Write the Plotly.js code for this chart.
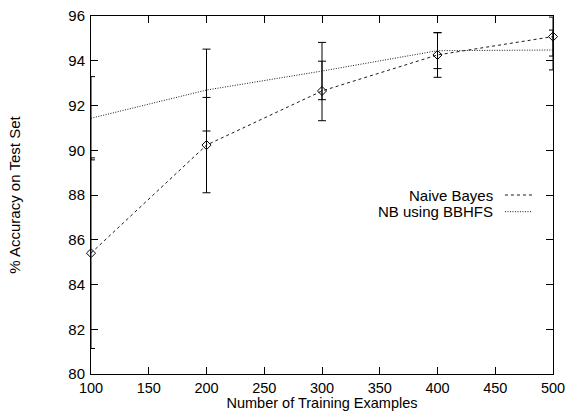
<!DOCTYPE html>
<html>
<head>
<meta charset="utf-8">
<script src="https://cdn.plot.ly/plotly-3.0.1.min.js"></script>
<style>html,body{margin:0;padding:0;background:#fff;}#chart{width:567px;height:411px;}</style>
</head>
<body>
<div id="chart"></div>
<script>
// Data
const trainingExamples = [100, 200, 300, 400, 500];
const naiveBayes = [85.4, 90.23, 92.65, 94.26, 95.08];
const naiveBayesErr = [4.26, 2.13, 1.33, 1.0, 0.87];
const nbBBHFS = [91.43, 92.69, 93.54, 94.45, 94.48];
const nbBBHFSErr = [1.86, 1.83, 1.28, 0.8, 0.89];
const seriesNames = ["Naive Bayes", "NB using BBHFS"];
const xTicks = [100, 150, 200, 250, 300, 350, 400, 450, 500];
const yTicks = [80, 82, 84, 86, 88, 90, 92, 94, 96];

const FONT = "Liberation Sans, Arial, Helvetica, sans-serif";

const traces = [
  {
    x: trainingExamples, y: naiveBayes, name: seriesNames[0],
    type: "scatter", mode: "lines+markers", cliponaxis: false,
    line: {color: "#1a1a1a", width: 1, dash: "3px,3px"},
    marker: {symbol: "diamond-open", size: 7, color: "#000", line: {width: 1, color: "#000"}},
    error_y: {type: "data", array: naiveBayesErr, visible: true, color: "#000", thickness: 1, width: 4}
  },
  {
    x: trainingExamples, y: nbBBHFS, name: seriesNames[1],
    type: "scatter", mode: "lines", cliponaxis: false,
    line: {color: "#1a1a1a", width: 1, dash: "1px,1.5px"},
    error_y: {type: "data", array: nbBBHFSErr, visible: true, color: "#000", thickness: 1, width: 4}
  }
];

const axisCommon = {
  showgrid: false, zeroline: false,
  showline: true, mirror: "allticks", linecolor: "#000", linewidth: 1,
  ticks: "inside", ticklen: 7, tickwidth: 1, tickcolor: "#000",
  tickfont: {family: FONT, size: 15, color: "#000"}
};

const layout = {
  width: 567, height: 411,
  margin: {l: 91, r: 14, t: 16, b: 37},
  paper_bgcolor: "#fff", plot_bgcolor: "#fff",
  showlegend: false,
  font: {family: FONT, color: "#000"},
  xaxis: Object.assign({}, axisCommon, {
    range: [100, 500], tickvals: xTicks, ticktext: xTicks.map(String),
    tickfont: {family: FONT, size: 14.5, color: "#000"},
    ticklabelstandoff: 1,
    title: {text: "Number of Training Examples", font: {family: FONT, size: 14.5, color: "#000"}, standoff: 3}
  }),
  yaxis: Object.assign({}, axisCommon, {
    range: [80, 96], tickvals: yTicks, ticktext: yTicks.map(String),
    ticklabelstandoff: 2,
    title: {text: "% Accuracy on Test Set", font: {family: FONT, size: 15, color: "#000"}, standoff: 44}
  }),
  annotations: [
    {xref: "paper", yref: "paper", x: 0.8745, y: 0.5, xanchor: "right", yanchor: "middle",
     text: seriesNames[0], showarrow: false, font: {family: FONT, size: 15, color: "#000"}},
    {xref: "paper", yref: "paper", x: 0.8745, y: 0.4534, xanchor: "right", yanchor: "middle",
     text: seriesNames[1], showarrow: false, font: {family: FONT, size: 15, color: "#000"}}
  ],
  shapes: [
    {type: "line", xref: "paper", yref: "paper", x0: 0.896, x1: 0.955, y0: 0.5, y1: 0.5,
     line: {color: "#1a1a1a", width: 1, dash: "3px,3px"}},
    {type: "line", xref: "paper", yref: "paper", x0: 0.896, x1: 0.955, y0: 0.4534, y1: 0.4534,
     line: {color: "#1a1a1a", width: 1, dash: "1px,1.5px"}}
  ]
};

Plotly.newPlot("chart", traces, layout, {staticPlot: true, displayModeBar: false});
</script>
</body>
</html>
